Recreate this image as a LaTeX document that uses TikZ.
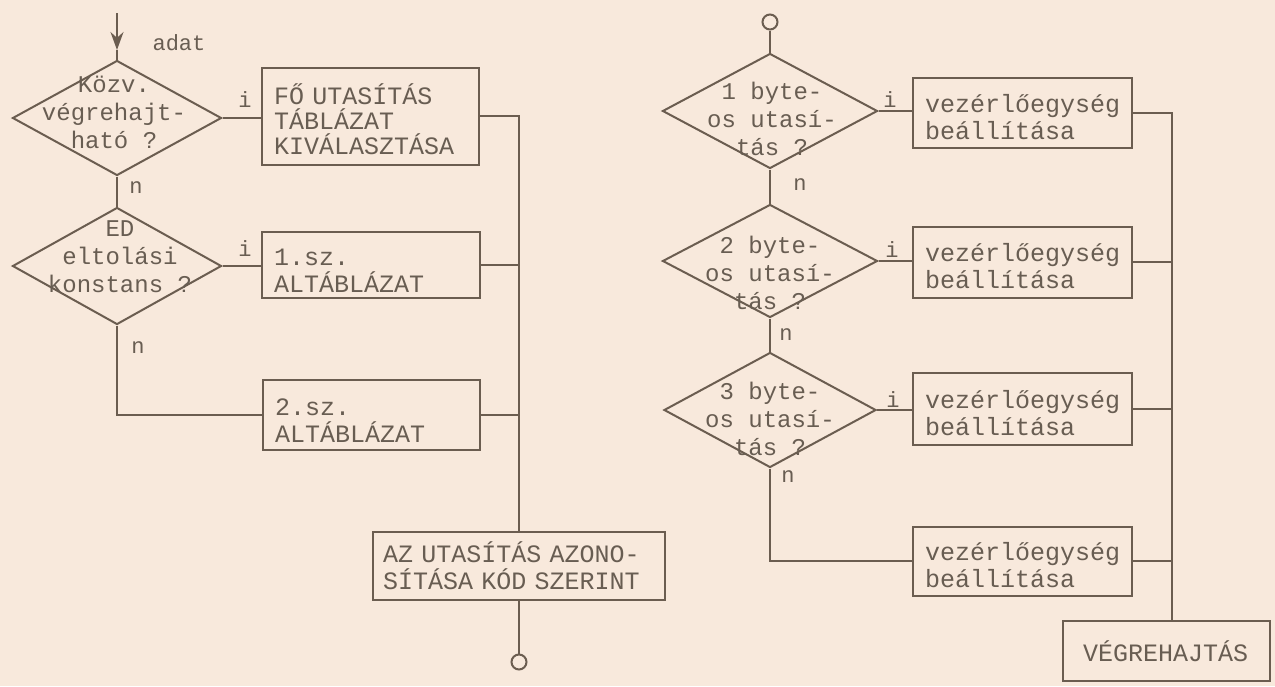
\documentclass[tikz,border=0pt]{standalone}
\usepackage{fontspec}
\newfontfamily\tw{Liberation Mono}
\usetikzlibrary{shapes.geometric,arrows.meta}
\definecolor{bg}{HTML}{F8E9DC}
\definecolor{ink}{HTML}{6B5D50}
\definecolor{txt}{HTML}{685D52}
\newcommand\topstrut{\rule{0pt}{27pt}}
\begin{document}
\begin{tikzpicture}[x=1pt,y=-1pt,
  every node/.style={font=\tw\fontsize{25}{27}\selectfont, text=txt},
  line/.style={draw=ink, line width=2pt},
  dia/.style={diamond, draw=ink, line width=2pt, inner sep=0pt},
  dtext/.style={align=center, inner sep=0pt, font=\tw\fontsize{24}{28}\selectfont},
  box/.style={draw=ink, line width=2pt, align=left, inner xsep=12, inner ysep=0},
  lbl/.style={inner sep=0pt, font=\tw\fontsize{22}{24}\selectfont},
  term/.style={circle, draw=ink, line width=2pt, minimum size=15, inner sep=0pt}
]
\fill[bg] (0,0) rectangle (1275,686);
\useasboundingbox (0,0) rectangle (1275,686);

% ---------- left column ----------
\node[dia, minimum width=209, minimum height=115] (d1) at (117,118) {};
\node[dtext] (d1t) at (114,112) {Közv.\\végrehajt-\\ható ?};
\node[dia, minimum width=209, minimum height=117] (d2) at (117,266) {};
\node[dtext] (d2t) at (120,257) {ED\\eltolási\\konstans ?};

\node[box, minimum width=217, minimum height=97, text width=193] (b1) at (370.5,116.5)
  {\topstrut FŐ UTASÍTÁS\\[-2pt]TÁBLÁZAT\\[-2pt]KIVÁLASZTÁSA};
\node[box, minimum width=218, minimum height=66, text width=194] (b2) at (371,265)
  {\topstrut 1.sz.\\ALTÁBLÁZAT};
\node[box, minimum width=217, minimum height=70, text width=193] (b3) at (371.5,415)
  {\topstrut 2.sz.\\ALTÁBLÁZAT};
\node[box, minimum width=292, minimum height=68, inner xsep=10, text width=272] (b4) at (519,566)
  {AZ UTASÍTÁS AZONO-\\SÍTÁSA KÓD SZERINT};
\node[term] (c1) at (519,662) {};

\coordinate (a0) at (117,13);
\coordinate (amid) at (117,50);
\node[lbl] (adat) at (179,43) {adat};
\draw[line, -{Stealth[length=18pt,width=13pt]}] (a0) -- (amid);
\draw[line] (amid) -- (d1.north);

\draw[line] (d1.east) -- (d1.east -| b1.west);
\draw[line] (d1.south) -- (d2.north);
\draw[line] (d2.east) -- (d2.east -| b2.west);
\draw[line] (d2.south) |- (b3.west);
\coordinate (busL) at (519,116);
\draw[line] (b1.east |- busL) -- (busL) -- (b4.north);
\draw[line] (b2.east) -- (b2.east -| busL);
\draw[line] (b3.east) -- (b3.east -| busL);
\draw[line] (b4.south) -- (c1.north);

\node[lbl] (i1) at (245,100) {i};
\node[lbl] (i2) at (245,249) {i};
\node[lbl] (n1) at (136,188) {n};
\node[lbl] (n2) at (138,348) {n};

% ---------- right column ----------
\node[term] (c2) at (770,22) {};
\node[dia, minimum width=215, minimum height=115] (r1) at (770,111) {};
\node[dtext] (r1t) at (772,119) {1 byte-\\os utasí-\\tás ?};
\node[dia, minimum width=215, minimum height=113] (r2) at (770,261) {};
\node[dtext] (r2t) at (770,273) {2 byte-\\os utasí-\\tás ?};
\node[dia, minimum width=212, minimum height=115] (r3) at (770,410) {};
\node[dtext] (r3t) at (770,419) {3 byte-\\os utasí-\\tás ?};

\node[box, minimum width=219, minimum height=70, text width=195] (v1) at (1022.5,113)
  {\topstrut vezérlőegység\\beállítása};
\node[box, minimum width=219, minimum height=71, text width=195] (v2) at (1022.5,262)
  {\topstrut vezérlőegység\\beállítása};
\node[box, minimum width=219, minimum height=72, text width=195] (v3) at (1022.5,409)
  {\topstrut vezérlőegység\\beállítása};
\node[box, minimum width=219, minimum height=69, text width=195] (v4) at (1022.5,561)
  {\topstrut vezérlőegység\\beállítása};
\node[box, minimum width=207, minimum height=60, inner xsep=20, text width=167] (vh) at (1166.5,651)
  {VÉGREHAJTÁS};

\draw[line] (c2.south) -- (r1.north);
\draw[line] (r1.east) -- (r1.east -| v1.west);
\draw[line] (r1.south) -- (r2.north);
\draw[line] (r2.east) -- (r2.east -| v2.west);
\draw[line] (r2.south) -- (r3.north);
\draw[line] (r3.east) -- (r3.east -| v3.west);
\draw[line] (r3.south) |- (v4.west);
\coordinate (busR) at (1172,113);
\draw[line] (v1.east) -- (busR) -- (busR |- vh.north);
\draw[line] (v2.east) -- (v2.east -| busR);
\draw[line] (v3.east) -- (v3.east -| busR);
\draw[line] (v4.east) -- (v4.east -| busR);

\node[lbl] (i3) at (890,100) {i};
\node[lbl] (i4) at (892,250) {i};
\node[lbl] (i5) at (893,400) {i};
\node[lbl] (n3) at (800,185) {n};
\node[lbl] (n4) at (786,335) {n};
\node[lbl] (n5) at (788,477) {n};
\end{tikzpicture}
\end{document}
